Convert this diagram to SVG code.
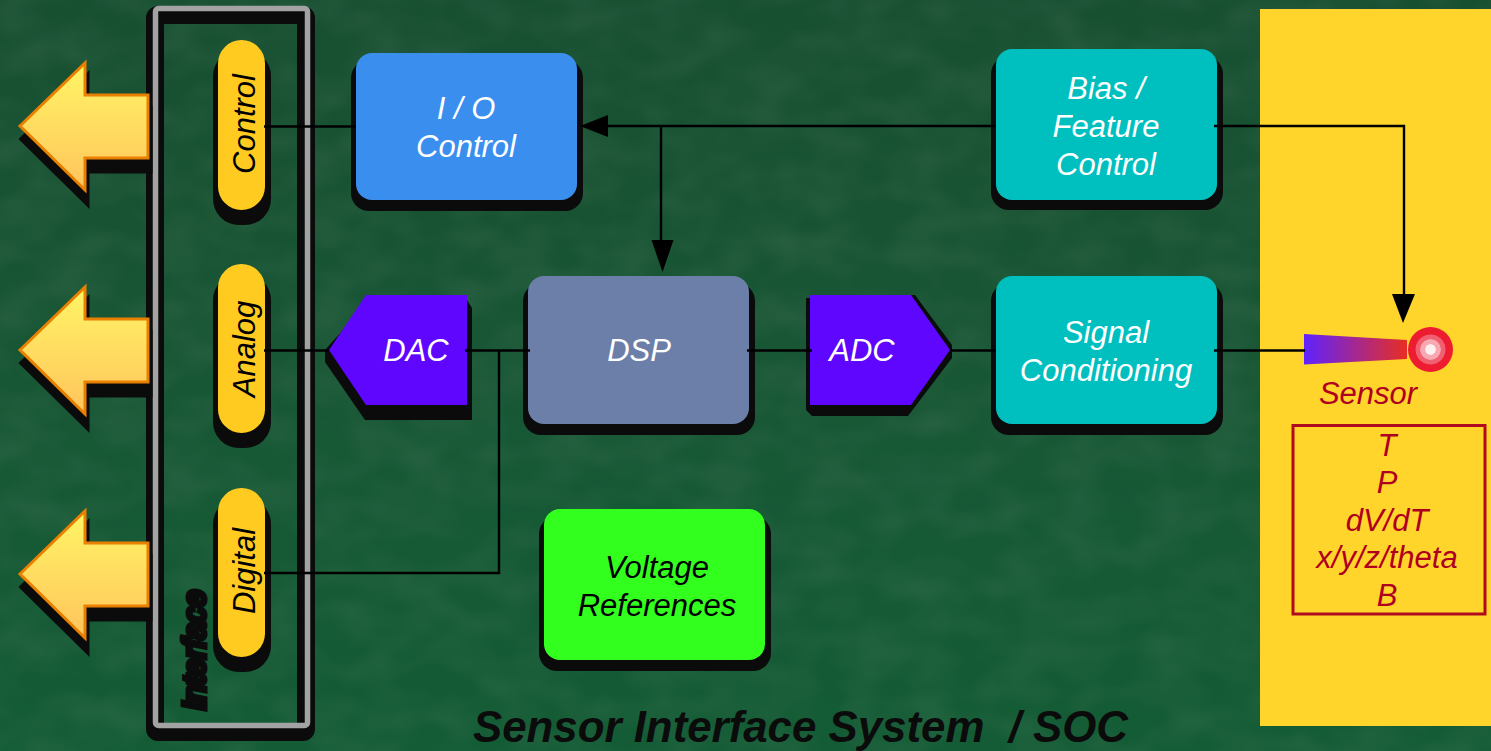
<svg xmlns="http://www.w3.org/2000/svg" width="1491" height="751" viewBox="0 0 1491 751">
<style>
.s{fill:#0b0b0b}
.t{font-family:"Liberation Sans",Arial,sans-serif;font-style:italic;font-size:31px;text-anchor:middle}
.w{fill:#fff}.k{fill:#000}.r{fill:#b00020}
.c{fill:none;stroke:#000;stroke-width:2.4}
.pill{fill:#ffcb20}
.arrow{fill:url(#ag);stroke:#e98000;stroke-width:3;stroke-linejoin:miter}
.ash{fill:#0b0b0b;stroke:#0b0b0b;stroke-width:5}
</style>
<defs>
<linearGradient id="bg" x1="0" y1="0" x2="0" y2="1"><stop offset="0" stop-color="#174f31"/><stop offset=".5" stop-color="#185735"/><stop offset="1" stop-color="#135c35"/></linearGradient>
<linearGradient id="ag" x1="0" y1="0" x2="0" y2="1"><stop offset="0" stop-color="#fff566"/><stop offset="1" stop-color="#ffc45c"/></linearGradient>
<linearGradient id="sg" x1="0" y1="0" x2="1" y2="0"><stop offset="0" stop-color="#5f22ff"/><stop offset="1" stop-color="#e82e22"/></linearGradient>
<radialGradient id="rg"><stop offset="0" stop-color="#fff0f0"/><stop offset=".22" stop-color="#fff0f0"/><stop offset=".25" stop-color="#f8a8b0"/><stop offset=".44" stop-color="#f8a8b0"/><stop offset=".47" stop-color="#f06070"/><stop offset=".65" stop-color="#f06070"/><stop offset=".68" stop-color="#ee1c30"/><stop offset="1" stop-color="#ee1c30"/></radialGradient>
<filter id="tex" x="0" y="0" width="100%" height="100%"><feTurbulence type="fractalNoise" baseFrequency=".02 .03" numOctaves="2" seed="11"/><feColorMatrix values="0 0 0 0 .2  0 0 0 0 .3  0 0 0 0 .22  1.4 0 0 0 -.45"/></filter>
<polygon id="arr" points="20,0 85,-63 85,-31 148,-31 148,32 85,32 85,64"/>
</defs>
<rect id="background" width="1491" height="751" fill="url(#bg)"/>
<rect width="1491" height="751" filter="url(#tex)" opacity=".18"/>
<rect id="sensor-panel" x="1260" y="9" width="231" height="717" fill="#ffd52b"/>

<g id="interface-frame">
<rect x="155" y="15" width="151" height="717" rx="3" fill="none" stroke="#0b0b0b" stroke-width="18"/>
<rect x="155.500" y="8.500" width="152" height="717" rx="3" fill="none" stroke="#a3a3a3" stroke-width="5.500"/>
<text class="t k" transform="translate(205 650) rotate(-90)" style="stroke:#0b0b0b;stroke-width:5">Interface</text>
</g>

<g id="arrow-1"><use href="#arr" class="ash" transform="translate(2 139)"/><use href="#arr" class="arrow" transform="translate(0 126)"/></g>
<g id="arrow-2"><use href="#arr" class="ash" transform="translate(2 363)"/><use href="#arr" class="arrow" transform="translate(0 350)"/></g>
<g id="arrow-3"><use href="#arr" class="ash" transform="translate(2 587)"/><use href="#arr" class="arrow" transform="translate(0 574)"/></g>

<g id="pill-control"><rect class="s" x="213" y="50" width="58" height="175" rx="26"/><rect class="pill" x="218" y="40" width="47" height="170" rx="23.500"/><text class="t k" transform="translate(255 124) rotate(-90)">Control</text></g>
<g id="pill-analog"><rect class="s" x="213" y="274" width="58" height="174" rx="26"/><rect class="pill" x="218" y="264" width="47" height="169" rx="23.500"/><text class="t k" transform="translate(255 349) rotate(-90)">Analog</text></g>
<g id="pill-digital"><rect class="s" x="213" y="498" width="58" height="174" rx="26"/><rect class="pill" x="218" y="488" width="47" height="169" rx="23.500"/><text class="t k" transform="translate(255 571) rotate(-90)">Digital</text></g>

<g id="io-control"><rect class="s" x="351" y="60" width="232" height="151" rx="18"/><rect x="356" y="53" width="221" height="147" rx="16" fill="#3a8eee"/><text class="t w" x="466" y="119">I / O</text><text class="t w" x="466" y="157">Control</text></g>
<g id="bias-control"><rect class="s" x="991" y="56" width="232" height="154" rx="18"/><rect x="996" y="49" width="221" height="151" rx="16" fill="#00bfbf"/><text class="t w" x="1106" y="99">Bias /</text><text class="t w" x="1106" y="137">Feature</text><text class="t w" x="1106" y="175">Control</text></g>
<g id="signal-conditioning"><rect class="s" x="991" y="283" width="232" height="152" rx="18"/><rect x="996" y="276" width="221" height="148" rx="16" fill="#00bfbf"/><text class="t w" x="1106" y="343">Signal</text><text class="t w" x="1106" y="381">Conditioning</text></g>
<g id="dsp"><rect class="s" x="523" y="283" width="232" height="152" rx="18"/><rect x="528" y="276" width="221" height="148" rx="16" fill="#6b7fa8"/><text class="t w" x="639" y="361">DSP</text></g>
<g id="voltage-references"><rect class="s" x="539" y="516" width="232" height="155" rx="18"/><rect x="544" y="509" width="221" height="151" rx="16" fill="#33ff1f"/><text class="t k" x="657" y="578">Voltage</text><text class="t k" x="657" y="616">References</text></g>
<g id="dac"><polygon class="s" points="325,350 325,362 365,420 472,420 472,308 467,300 370,300"/><polygon points="329,350 366,295 467,295 467,405 366,405" fill="#5f06ff"/><text class="t w" x="416" y="361">DAC</text></g>
<g id="adc"><polygon class="s" points="806,298 806,410 812,416 908,416 952,358 952,345 915,295"/><polygon points="810,295 911,295 950,350 911,405 810,405" fill="#5f06ff"/><text class="t w" x="862" y="361">ADC</text></g>

<g id="sensor">
<polygon points="1304,334 1407,340 1407,359 1304,364.500" fill="url(#sg)"/>
<circle cx="1430.500" cy="349.500" r="22.500" fill="url(#rg)"/>
<text class="t r" x="1368" y="404">Sensor</text>
</g>
<g id="quantities">
<rect x="1293" y="425.500" width="192" height="188.500" fill="none" stroke="#b00a20" stroke-width="3"/>
<text class="t r" x="1387" y="456">T</text>
<text class="t r" x="1387" y="493">P</text>
<text class="t r" x="1387" y="531">dV/dT</text>
<text class="t r" x="1387" y="568">x/y/z/theta</text>
<text class="t r" x="1387" y="606">B</text>
</g>

<g id="connectors">
<path class="c" d="M264 126.500H356"/>
<path class="c" d="M606 126H996"/>
<path class="c" d="M661 126V245"/>
<path class="c" d="M1214 126H1404V298"/>
<path class="c" d="M264 350.500H329"/>
<path class="c" d="M465 350.500H530"/>
<path class="c" d="M747 350.500H812"/>
<path class="c" d="M950 350.500H996"/>
<path class="c" d="M1214 350.500H1305"/>
<path class="c" d="M499 350V573H264"/>
<polygon points="580,126 608,115 608,137" fill="#000"/>
<polygon points="662.500,272 651.500,240 673.500,240" fill="#000"/>
<polygon points="1403,323 1392,294 1415,294" fill="#000"/>
</g>
<text id="title" x="473" y="741.500" xml:space="preserve" textLength="655" lengthAdjust="spacingAndGlyphs" style="font-family:'Liberation Sans',Arial,sans-serif;font-weight:bold;font-style:italic;font-size:44px;fill:#0b0b0b">Sensor Interface System  / SOC</text>
</svg>
